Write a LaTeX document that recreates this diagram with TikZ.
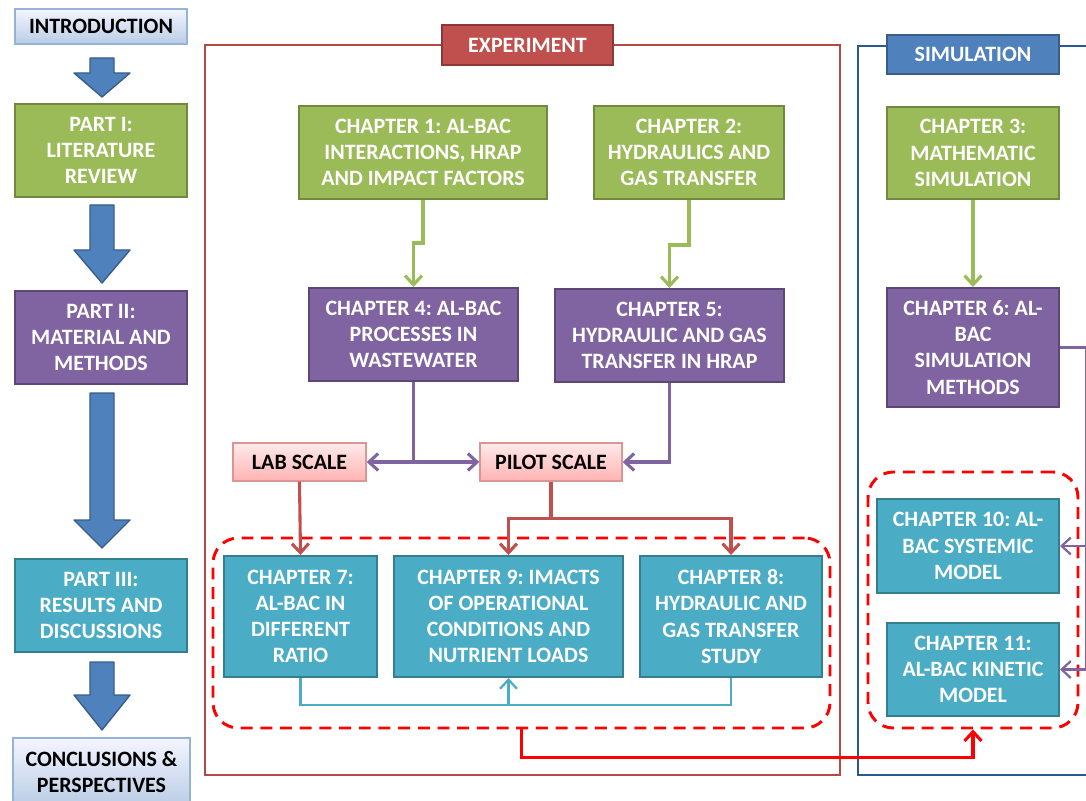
\documentclass[tikz,border=0pt]{standalone}
\usepackage{fontspec}
\setmainfont{Carlito}
\usetikzlibrary{arrows.meta}
\frenchspacing

\definecolor{grnfill}{HTML}{9BBB59}
\definecolor{grndraw}{HTML}{71893F}
\definecolor{purfill}{HTML}{8064A2}
\definecolor{purdraw}{HTML}{5C4776}
\definecolor{tealfill}{HTML}{4BACC6}
\definecolor{tealdraw}{HTML}{357D91}
\definecolor{redfill}{HTML}{C0504D}
\definecolor{reddraw}{HTML}{8C3836}
\definecolor{bluefill}{HTML}{4F81BD}
\definecolor{bluedraw}{HTML}{385D8A}
\definecolor{expred}{HTML}{B34A46}
\definecolor{simblue}{HTML}{2A5895}
\definecolor{pinkdraw}{HTML}{D99694}

\tikzset{
  sz/.style n args={2}{minimum width=#1*0.025cm, minimum height=#2*0.025cm},
  chap/.style={rectangle, draw, line width=1.4pt, inner sep=0pt, align=center,
    text=white, font=\bfseries\fontsize{15.6}{18.6}\selectfont},
  grnbox/.style={chap, fill=grnfill, draw=grndraw},
  purbox/.style={chap, fill=purfill, draw=purdraw},
  tealbox/.style={chap, fill=tealfill, draw=tealdraw},
  lightbox/.style={chap, text=black, draw=bluefill!60, line width=1pt,
    top color=blue!4!white, bottom color=bluefill!40},
  scalebox/.style={chap, text=black, draw=pinkdraw, line width=1pt,
    top color=red!8!white, bottom color=red!30!white},
  framebox/.style={rectangle, line width=1.9pt, inner sep=0pt},
  grpbox/.style={rectangle, draw=red, line width=2.1pt, rounded corners=18pt,
    dash pattern=on 8.5pt off 5.5pt, inner sep=0pt},
  blockarrow/.style={fill=bluefill, draw=bluedraw, line width=1pt, line join=round},
  link/.style={line width=2.2pt},
}

\begin{document}
\begin{tikzpicture}[x=0.025cm, y=-0.025cm, >={Straight Barb[length=6.5pt,width=12pt]}]
  \useasboundingbox (0,0) rectangle (1086,801);

  % left column
  \node[lightbox, sz={172}{35}] (intro) at (101,26.5) {INTRODUCTION};
  \node[grnbox, sz={172}{93}] (part1) at (101,150.5) {PART I:\\LITERATURE\\REVIEW};
  \node[purbox, sz={172}{93}] (part2) at (101,337.5) {PART II:\\MATERIAL AND\\METHODS};
  \node[tealbox, sz={172}{93}] (part3) at (101,605.5) {PART III:\\RESULTS AND\\DISCUSSIONS};
  \node[lightbox, sz={177}{68}] (concl) at (101.5,772) {CONCLUSIONS \&\\PERSPECTIVES};

  \draw[blockarrow] (90,58) -- (114,58) -- (114,73) -- (130,73) -- (102,97) -- (74,73) -- (90,73) -- cycle;
  \draw[blockarrow] (90,205) -- (114,205) -- (114,250) -- (130,250) -- (102,283) -- (74,250) -- (90,250) -- cycle;
  \draw[blockarrow] (90,393) -- (114,393) -- (114,520) -- (130,520) -- (102,548) -- (74,520) -- (90,520) -- cycle;
  \draw[blockarrow] (90,662) -- (114,662) -- (114,695) -- (130,695) -- (102,730) -- (74,695) -- (90,695) -- cycle;

  % frames
  \node[framebox, draw=expred, sz={635}{730}] (expframe) at (522.5,410) {};
  \node[framebox, draw=simblue, sz={260}{729}] (simframe) at (988,410.5) {};
  \node[chap, fill=redfill, draw=reddraw, sz={171}{40}] (explabel) at (527.5,45) {EXPERIMENT};
  \node[chap, fill=bluefill, draw=bluedraw, sz={172}{39}] (simlabel) at (973,54.5) {SIMULATION};

  % dashed groups
  \node[grpbox, sz={617}{190}] (expgrp) at (521.5,633) {};
  \node[grpbox, sz={210}{256}] (simgrp) at (973,600) {};

  % chapters
  \node[grnbox, sz={248}{93}] (ch1) at (423,152.5) {CHAPTER 1: AL-BAC\\INTERACTIONS, HRAP\\AND IMPACT FACTORS};
  \node[grnbox, sz={190}{93}] (ch2) at (689,152.5) {CHAPTER 2:\\HYDRAULICS AND\\GAS TRANSFER};
  \node[grnbox, sz={172}{92}] (ch3) at (973,153) {CHAPTER 3:\\MATHEMATIC\\SIMULATION};
  \node[purbox, sz={209}{93}] (ch4) at (413.5,334.5) {CHAPTER 4: AL-BAC\\PROCESSES IN\\WASTEWATER};
  \node[purbox, sz={229}{93}] (ch5) at (669.5,335.5) {CHAPTER 5:\\HYDRAULIC AND GAS\\TRANSFER IN HRAP};
  \node[purbox, sz={172}{119}] (ch6) at (973,347.5) {CHAPTER 6: AL-\\BAC\\SIMULATION\\METHODS};
  \node[scalebox, sz={133}{38}] (lab) at (299.5,462) {LAB SCALE};
  \node[scalebox, sz={142}{38}] (pilot) at (551,462) {PILOT SCALE};
  \node[tealbox, sz={153}{121}] (ch7) at (300.5,616.5) {CHAPTER 7:\\AL-BAC IN\\DIFFERENT\\RATIO};
  \node[tealbox, sz={229}{121}] (ch9) at (508.5,616.5) {CHAPTER 9: IMACTS\\OF OPERATIONAL\\CONDITIONS AND\\NUTRIENT LOADS};
  \node[tealbox, sz={182}{121}] (ch8) at (731,616.5) {CHAPTER 8:\\HYDRAULIC AND\\GAS TRANSFER\\STUDY};
  \node[tealbox, sz={182}{94}] (ch10) at (968,546) {CHAPTER 10: AL-\\BAC SYSTEMIC\\MODEL};
  \node[tealbox, sz={172}{93}] (ch11) at (973,669.5) {CHAPTER 11:\\AL-BAC KINETIC\\MODEL};

  % connectors
  \draw[link, grnfill, ->] (ch1.south) -- ++(0,43) -| (ch4.north);
  \draw[link, grnfill, ->] (ch2.south) -- ++(0,45) -| (ch5.north);
  \draw[link, grnfill, ->] (ch3.south) -- (ch6.north);
  \draw[link, purfill, ->] (ch4.south) |- (lab.east);
  \draw[link, purfill, ->] (ch4.south) |- (pilot.west);
  \draw[link, purfill, ->] (ch5.south) |- (pilot.east);
  \draw[link, redfill, ->] (lab.south) -- (ch7.north);
  \draw[link, redfill, ->] (pilot.south) -- ++(0,37) -| (ch9.north);
  \draw[link, redfill, ->] (pilot.south) -- ++(0,37) -| (ch8.north);
  \draw[line width=1.6pt, tealfill] (ch7.south) -- ++(0,27) -| (ch8.south);
  \coordinate (tealjoin) at (ch9.south |- 0,704);
  \draw[line width=1.6pt, tealfill, ->] (tealjoin) -- (ch9.south);
  \draw[line width=1.6pt, purfill, ->] (ch6.east) -- ++(26,0) |- (ch10.east);
  \draw[line width=1.6pt, purfill, ->] (ch6.east) -- ++(26,0) |- (ch11.east);
  \draw[link, red, ->] (expgrp.south) -- ++(0,28) -| (simgrp.south);
\end{tikzpicture}
\end{document}
